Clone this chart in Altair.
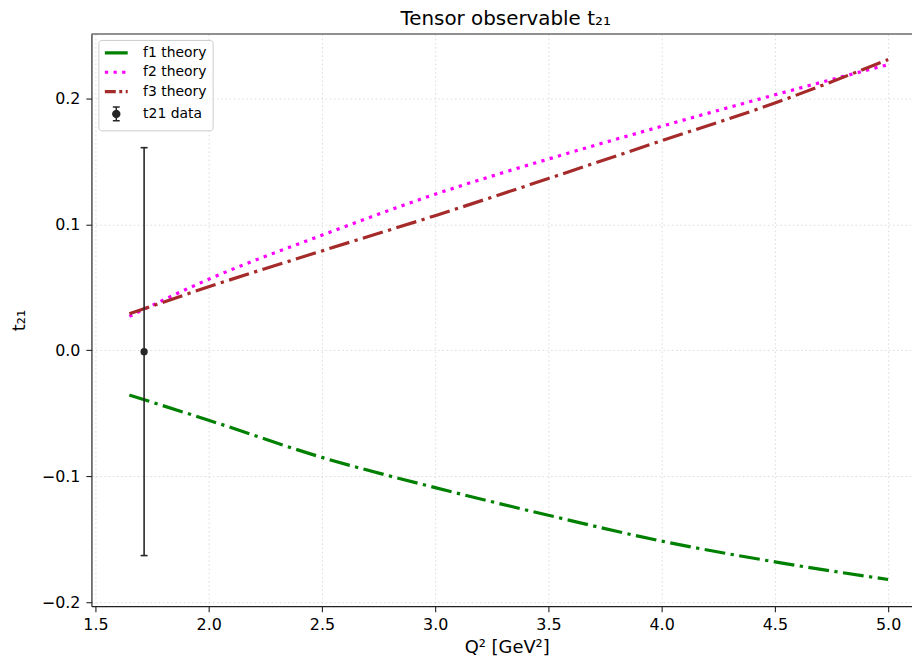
import altair as alt
import pandas as pd

# ---- data ----
Q = [1.65, 2.0, 2.5, 3.0, 3.5, 4.0, 4.5, 5.0]
f1 = [-0.0355, -0.0555, -0.085, -0.109, -0.131, -0.1515, -0.168, -0.182]
f2 = [0.027, 0.0565, 0.0915, 0.124, 0.152, 0.178, 0.203, 0.227]
f3 = [0.029, 0.0505, 0.079, 0.107, 0.1365, 0.1665, 0.1965, 0.231]

data_Q = [1.715]
data_t = [-0.001]
data_err = [0.162]

series_names = ["f1 theory", "f2 theory", "f3 theory", "t21 data"]
series_colors = ["#008000", "#ff00ff", "#a52a2a", "#262626"]
x_ticks = [1.5, 2.0, 2.5, 3.0, 3.5, 4.0, 4.5, 5.0]
y_ticks = [-0.2, -0.1, 0.0, 0.1, 0.2]

# ---- tables ----
rows = []
for name, vals in zip(series_names[:3], [f1, f2, f3]):
    for q, v in zip(Q, vals):
        rows.append({"Q": q, "t": v, "series": name})
lines_df = pd.DataFrame(rows)
err_df = pd.DataFrame({
    "Q": data_Q,
    "t": data_t,
    "lo": [t - e for t, e in zip(data_t, data_err)],
    "hi": [t + e for t, e in zip(data_t, data_err)],
    "series": [series_names[3]] * len(data_Q),
})

W, H = 826, 576
x_scale = alt.Scale(domain=[1.4825, 1.4825 + W / 228.0], nice=False, zero=False)
y_scale = alt.Scale(domain=[-0.2032, 0.2513], nice=False, zero=False)
color_scale = alt.Scale(domain=series_names, range=series_colors)

EB = "M0,-0.6L0,0.6M-0.3,-0.6L0.3,-0.6M-0.3,0.6L0.3,0.6M0.3,0A0.3,0.3,0,1,1,-0.3,0A0.3,0.3,0,1,1,0.3,0Z"

legend = alt.Legend(
    title=None, orient="none", legendX=7, legendY=6,
    padding=6, rowPadding=5.5, labelFontSize=14, labelFont="DejaVu Sans",
    labelColor="#000000", labelOffset=20, symbolSize=529, symbolOffset=5,
    strokeColor="#cccccc", fillColor="rgba(255,255,255,0.8)", cornerRadius=3,
)
legend_encode = {"symbols": {"update": {
    "shape": {"signal": f"datum.value === 't21 data' ? '{EB}' : 'M-1,0L1,0'"},
    "strokeDash": {"signal": "datum.value === 'f2 theory' ? [3.3,5.4] : datum.value === 'f3 theory' ? [11,3.5,3,3.5] : [1,0]"},
    "strokeWidth": {"signal": "datum.value === 't21 data' ? 1.5 : 3.2"},
    "stroke": {"signal": "scale('color', datum.value)"},
    "fill": {"signal": "datum.value === 't21 data' ? scale('color', datum.value) : 'transparent'"},
    "opacity": {"value": 1},
    "fillOpacity": {"value": 1},
    "strokeOpacity": {"value": 1},
}}}

x_axis = alt.Axis(
    values=x_ticks, format=".1f", title="Q² [GeV²]", titleX=418,
    titleFontSize=18, titleFontWeight="normal", titlePadding=6,
    labelFontSize=16, labelPadding=5, tickSize=5.6, tickWidth=1.1,
)
y_axis = alt.Axis(
    values=y_ticks, format=".1f", title="t₂₁",
    titleFontSize=18, titleFontWeight="normal", titlePadding=13,
    labelFontSize=16, labelPadding=6, tickSize=5.6, tickWidth=1.1,
)

lines = alt.Chart(lines_df).mark_line(strokeWidth=3.2, strokeCap="butt", interpolate="monotone").encode(
    x=alt.X("Q:Q", scale=x_scale, axis=x_axis),
    y=alt.Y("t:Q", scale=y_scale, axis=y_axis),
    color=alt.Color("series:N", scale=color_scale, legend=legend),
    strokeDash=alt.StrokeDash(
        "series:N",
        scale=alt.Scale(domain=series_names[:3],
                        range=[[21, 5.5, 3.3, 5.5], [3.3, 5.4], [21, 5.5, 3.3, 5.5]]),
        legend=None,
    ),
)

bars = alt.Chart(err_df).mark_rule(strokeWidth=1.6).encode(
    x=alt.X("Q:Q", scale=x_scale),
    y=alt.Y("lo:Q", scale=y_scale),
    y2="hi:Q",
    color=alt.Color("series:N", scale=color_scale),
)
cap_lo = alt.Chart(err_df).mark_tick(orient="horizontal", size=7, thickness=1.6, opacity=1).encode(
    x=alt.X("Q:Q", scale=x_scale),
    y=alt.Y("lo:Q", scale=y_scale),
    color=alt.Color("series:N", scale=color_scale),
)
cap_hi = alt.Chart(err_df).mark_tick(orient="horizontal", size=7, thickness=1.6, opacity=1).encode(
    x=alt.X("Q:Q", scale=x_scale),
    y=alt.Y("hi:Q", scale=y_scale),
    color=alt.Color("series:N", scale=color_scale),
)
points = alt.Chart(err_df).mark_circle(size=54, opacity=1).encode(
    x=alt.X("Q:Q", scale=x_scale),
    y=alt.Y("t:Q", scale=y_scale),
    color=alt.Color("series:N", scale=color_scale),
)

top_spine = alt.Chart(err_df).mark_rule(color="#222222", strokeWidth=1.2).encode(
    x=alt.value(0), x2=alt.value("width"), y=alt.value(0)
)

chart = alt.layer(lines, bars, cap_lo, cap_hi, points, top_spine).properties(
    width=W, height=H,
    title=alt.TitleParams("Tensor observable t₂₁", fontSize=20, font="DejaVu Sans",
                          fontWeight="normal", color="#000000", dx=4, offset=4),
    autosize=alt.AutoSizeParams(type="none"),
    padding={"left": 84, "top": 24, "right": 0, "bottom": 52},
).configure(
    font="DejaVu Sans",
).configure_view(
    stroke=None,
).configure_axis(
    domainColor="#222222", domainWidth=1.2, tickColor="#222222",
    labelColor="#000000", titleColor="#000000", labelFont="DejaVu Sans", titleFont="DejaVu Sans",
    grid=True, gridColor="#d4d4d4", gridDash=[1.6, 2.6], gridWidth=0.8,
)

# Vega-Lite supports legend "encode" (hidden from its JSON schema): inject it.
spec = chart.to_dict()
spec["layer"][0]["encoding"]["color"]["legend"]["encode"] = legend_encode
object.__setattr__(chart, "to_dict", lambda *a, **k: spec)

chart.save("out.html", embed_options={"renderer": "svg", "actions": False})
